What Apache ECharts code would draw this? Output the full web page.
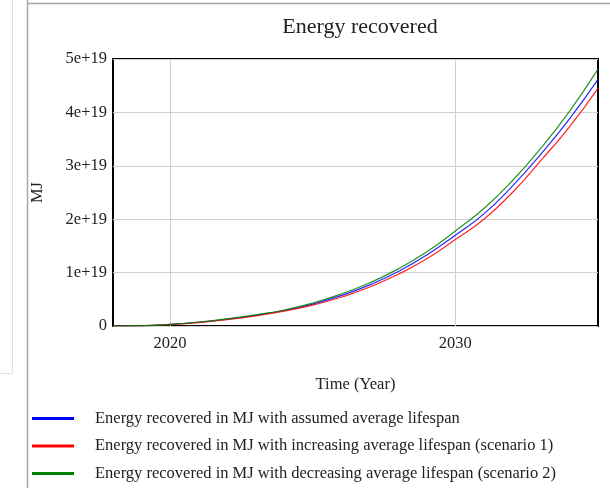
<!DOCTYPE html>
<html>
<head>
<meta charset="utf-8">
<script src="https://cdn.jsdelivr.net/npm/echarts@6/dist/echarts.min.js"></script>
<style>
html,body{margin:0;padding:0;background:#fff;}
#c{width:610px;height:488px;}
</style>
</head>
<body>
<div id="c"></div>
<script>
var years = [2018,2019,2020,2021,2022,2023,2024,2025,2026,2027,2028,2029,2030,2031,2032,2033,2034,2035];
// values in units of 1e19 MJ
var assumed =    [0,0.005,0.03,0.07,0.13,0.20,0.29,0.41,0.57,0.77,1.02,1.33,1.70,2.10,2.62,3.22,3.88,4.62];
var increasing = [0,0.004,0.025,0.065,0.12,0.19,0.28,0.39,0.54,0.73,0.97,1.26,1.62,2.00,2.50,3.10,3.73,4.45];
var decreasing = [0,0.006,0.03,0.075,0.135,0.21,0.30,0.43,0.60,0.81,1.07,1.39,1.78,2.20,2.72,3.33,4.02,4.81];
var names = [
  'Energy recovered in MJ with assumed average lifespan',
  'Energy recovered in MJ with increasing average lifespan (scenario 1)',
  'Energy recovered in MJ with decreasing average lifespan (scenario 2)'
];
var colors = ['#0000ff','#ff0000','#008000'];
var gridYears = [2020, 2030];
var SCALE = 1e19;

function pairs(arr){ return years.map(function(y,i){ return [y, arr[i]*SCALE]; }); }

var font = 'Liberation Serif';
var chart = echarts.init(document.getElementById('c'), null, {renderer:'canvas'});
var seriesData = [assumed, increasing, decreasing];
var series = seriesData.map(function(d,i){
  var s = {
    name: names[i], type: 'line', data: pairs(d), smooth: true, showSymbol: false,
    symbol: 'none', lineStyle: {width: 1.2, color: colors[i], opacity: 0.85}, itemStyle: {color: colors[i]}, z: 3
  };
  if (i === 0) {
    s.markLine = {
      silent: true, symbol: ['none','none'], label: {show:false},
      lineStyle: {color:'#d0d0d0', width:1, type:'solid', opacity: 1},
      data: gridYears.map(function(y){ return {xAxis: y}; }), z: 1
    };
  }
  return s;
});

chart.setOption({
  animation: false,
  backgroundColor: '#fff',
  title: {
    text: 'Energy recovered', left: 355, top: 11, textAlign: 'center',
    textStyle: {fontFamily: font, fontSize: 22, fontWeight: 'normal', color: '#222'}
  },
  legend: {
    orient: 'vertical', left: 32, top: 409, height: 79, padding: 0,
    icon: 'rect', itemWidth: 42, itemHeight: 3, itemGap: 8.5,
    textStyle: {fontFamily: font, fontSize: 16.5, color: '#222', lineHeight: 19, padding: [0,0,0,16]},
    data: names
  },
  grid: {left: 113, top: 59, width: 485, height: 267, show: true, borderColor: '#000', borderWidth: 2, backgroundColor: 'transparent'},
  xAxis: {
    type: 'value', min: 2018, max: 2035, interval: 1,
    name: 'Time (Year)', nameLocation: 'middle', nameGap: 50,
    nameTextStyle: {fontFamily: font, fontSize: 16.5, color: '#222'},
    axisLine: {show: false}, axisTick: {show: false}, splitLine: {show: false},
    axisLabel: {
      fontFamily: font, fontSize: 16.5, color: '#222', margin: 9,
      formatter: function(v){ return (v % 10 === 0) ? String(v) : ''; }
    }
  },
  yAxis: {
    type: 'value', min: 0, max: 5e19, interval: 1e19,
    name: 'MJ', nameLocation: 'middle', nameGap: 67,
    nameTextStyle: {fontFamily: font, fontSize: 16.5, color: '#222'},
    axisLine: {show: false}, axisTick: {show: false},
    splitLine: {show: true, lineStyle: {color: '#d0d0d0', width: 1}},
    axisLabel: {
      fontFamily: font, fontSize: 16.5, color: '#222', margin: 6,
      formatter: function(v){ return v === 0 ? '0' : Math.round(v / SCALE) + 'e+19'; }
    }
  },
  graphic: [
    {type:'line', shape:{x1:27.5,y1:0,x2:27.5,y2:488}, style:{stroke:'#a8a8a8', lineWidth:1.5}, silent:true},
    {type:'line', shape:{x1:27,y1:3.5,x2:610,y2:3.5}, style:{stroke:'#a8a8a8', lineWidth:1.5}, silent:true},
    {type:'line', shape:{x1:12.5,y1:0,x2:12.5,y2:373.5}, style:{stroke:'#e0e0e0', lineWidth:1}, silent:true},
    {type:'line', shape:{x1:0,y1:373.5,x2:13,y2:373.5}, style:{stroke:'#e0e0e0', lineWidth:1}, silent:true}
  ],
  series: series
});
</script>
</body>
</html>
